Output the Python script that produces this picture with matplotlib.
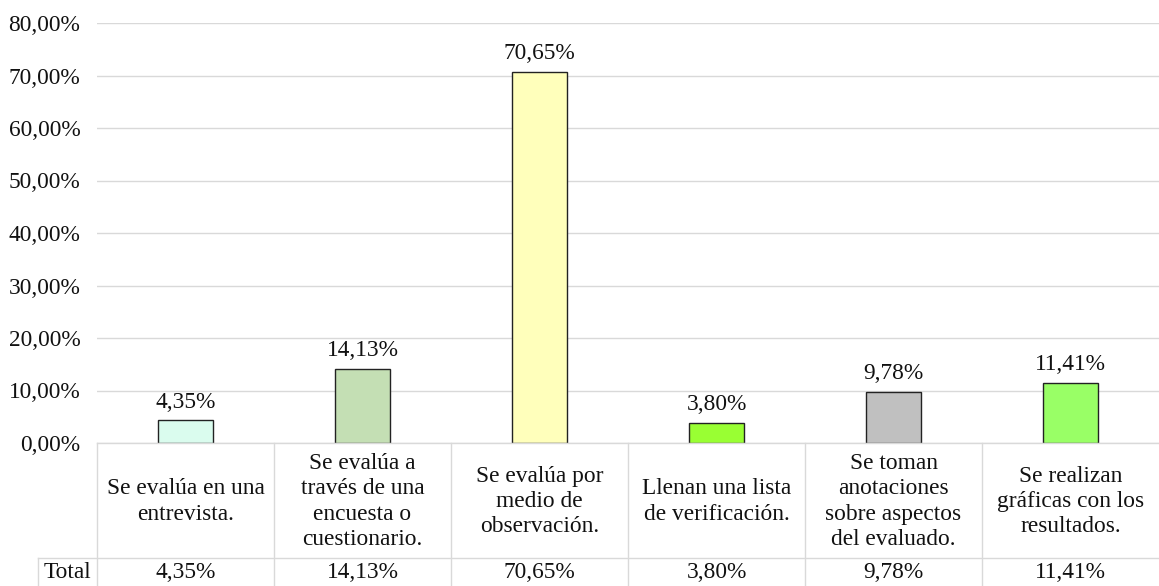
import matplotlib
matplotlib.use("Agg")
import matplotlib.pyplot as plt
from matplotlib.lines import Line2D

# data
categories = ["Se evalúa en una\nentrevista.",
              "Se evalúa a\ntravés de una\nencuesta o\ncuestionario.",
              "Se evalúa por\nmedio de\nobservación.",
              "Llenan una lista\nde verificación.",
              "Se toman\nanotaciones\nsobre aspectos\ndel evaluado.",
              "Se realizan\ngráficas con los\nresultados."]
values = [4.35, 14.13, 70.65, 3.80, 9.78, 11.41]
colors = ["#DAFCEE", "#C4DFB4", "#FFFFBB", "#99FF33", "#C0C0C0", "#99FF66"]
yticks = [0, 10, 20, 30, 40, 50, 60, 70, 80]

def fmt(v):
    return ("%.2f%%" % v).replace(".", ",")

plt.rcParams['font.family'] = ['Liberation Serif', 'DejaVu Serif']
FS = 16.8
W, H = 1159, 586
fig = plt.figure(figsize=(W / 100, H / 100), dpi=100)
# axes from pixel box
x0, x1, ytop, ybot = 97, 1159, 23, 443
ax = fig.add_axes([x0 / W, (H - ybot) / H, (x1 - x0) / W, (ybot - ytop) / H])

xs = list(range(len(values)))
ax.bar(xs, values, width=0.31, color=colors, edgecolor="#222222", linewidth=1, zorder=3)
for x, v in zip(xs, values):
    ax.text(x, v + 1.45, fmt(v), ha="center", va="bottom", fontsize=FS, color="#111111")

ax.set_xlim(-0.5, len(values) - 0.5)
ax.set_ylim(0, 80)
ax.set_yticks(yticks)
ax.set_yticklabels([fmt(t) for t in yticks], fontsize=FS, color="#111111")
ax.tick_params(axis="y", length=0, pad=12)
ax.set_xticks([])
ax.grid(axis="y", color="#D9D9D9", linewidth=1, zorder=0)
for s in ax.spines.values():
    s.set_visible(False)

# table below the axis, pixel -> figure coordinates
def fy(p):
    return (H - p) / H

def fx(p):
    return p / W

lc = "#D9D9D9"
cw = (x1 - x0) / len(values)
row1, row2, bottom = 443, 558, 586
fig.add_artist(Line2D([fx(x0), fx(x1)], [fy(row1), fy(row1)], color=lc, lw=1))
fig.add_artist(Line2D([fx(38), fx(x1)], [fy(row2), fy(row2)], color=lc, lw=1))
fig.add_artist(Line2D([fx(38), fx(38)], [fy(row2), fy(bottom)], color=lc, lw=1))
for i in range(len(values)):
    xb = x0 + i * cw
    fig.add_artist(Line2D([fx(xb), fx(xb)], [fy(row1), fy(bottom)], color=lc, lw=1))

for i, (c, v) in enumerate(zip(categories, values)):
    xc = x0 + (i + 0.5) * cw
    fig.text(fx(xc), fy((row1 + row2) / 2 + 1), c, ha="center", va="center",
             fontsize=FS, linespacing=1.28, color="#111111")
    fig.text(fx(xc), fy((row2 + bottom) / 2 + 1), fmt(v), ha="center", va="center",
             fontsize=FS, color="#111111")
fig.text(fx(67), fy((row2 + bottom) / 2 + 1), "Total", ha="center", va="center",
         fontsize=FS, color="#111111")

fig.savefig("out.png", dpi=100, facecolor="white")
